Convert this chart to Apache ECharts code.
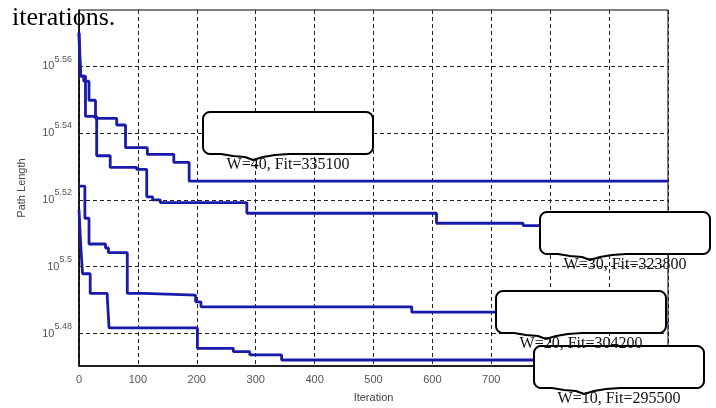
<!DOCTYPE html>
<html>
<head>
<meta charset="utf-8">
<script src="https://cdn.jsdelivr.net/npm/echarts@6/dist/echarts.min.js"></script>
<style>
  html, body { margin: 0; padding: 0; background: #fff; }
  #chart1 { width: 716px; height: 408px; }
</style>
</head>
<body>
<div id="chart1"></div>
<script>
// exponent of path length (axis is log10)
const iterW40 = [0, 2, 8, 17, 28, 64, 79, 116, 161, 187, 1000]
const pathW40 = [5.570, 5.557, 5.5555, 5.5498, 5.5444, 5.5424, 5.5356, 5.5336, 5.5312, 5.5256, 5.5256]

const iterW30 = [0, 3, 11, 30, 53, 98, 115, 125, 138, 285, 607, 754, 880, 1000]
const pathW30 = [5.570, 5.557, 5.545, 5.5332, 5.5297, 5.5291, 5.5209, 5.5200, 5.5192, 5.5160, 5.5130, 5.5123, 5.5103, 5.5103]

const iterW20 = [0, 10, 17, 45, 50, 82, 110, 198, 207, 565, 850, 1000]
const pathW20 = [5.5241, 5.5145, 5.5068, 5.5056, 5.5042, 5.4920, 5.4915, 5.4895, 5.4880, 5.4864, 5.4832, 5.4832]

const iterW10 = [0, 3, 6, 19, 48, 51, 201, 262, 290, 344, 900, 1000]
const pathW10 = [5.5171, 5.5062, 5.4979, 5.4920, 5.4910, 5.4817, 5.4756, 5.4746, 5.4736, 5.4721, 5.4709, 5.4709]

const yTicks = [5.48, 5.5, 5.52, 5.54, 5.56]
const calloutText = ["W=40, Fit=335100", "W=30, Fit=323800", "W=20, Fit=304200", "W=10, Fit=295500"]

const lineColor = "#1a1aaa"
const pairs = (xs, ys) => xs.map((x, i) => [x, ys[i]])

// rounded box outline with a small brace tip on the bottom edge
function calloutPoints(l, t, w, h, r) {
  const pts = []
  const b = t + h
  const tip = l + 50
  const arc = (cx, cy, a0, a1) => {
    for (let k = 0; k <= 6; k++) {
      const a = a0 + (a1 - a0) * k / 6
      pts.push([cx + r * Math.cos(a), cy + r * Math.sin(a)])
    }
  }
  arc(l + r, t + r, Math.PI, Math.PI * 1.5)
  arc(l + w - r, t + r, Math.PI * 1.5, Math.PI * 2)
  arc(l + w - r, b - r, 0, Math.PI * 0.5)
  pts.push([tip + 36, b], [tip + 22, b + 1], [tip + 10, b + 3], [tip, b + 6],
    [tip - 8, b + 3], [tip - 20, b + 2], [tip - 32, b])
  arc(l + r, b - r, Math.PI * 0.5, Math.PI)
  return pts
}

const boxes = [
  { l: 203, t: 112 },
  { l: 540, t: 212 },
  { l: 496, t: 291 },
  { l: 534, t: 346 },
]
const boxW = 170
const boxH = 42

const graphics = []
boxes.forEach((b) => {
  graphics.push({
    type: "polygon",
    z: 100,
    shape: { points: calloutPoints(b.l, b.t, boxW, boxH, 7) },
    style: { fill: "#fff", stroke: "#000", lineWidth: 2, lineJoin: "round" },
  })
})
boxes.forEach((b, i) => {
  graphics.push({
    type: "text",
    z: 110,
    x: b.l + boxW / 2,
    y: b.t + boxH + 11,
    style: {
      text: calloutText[i],
      font: "16px 'Liberation Serif'",
      fill: "#111",
      align: "center",
      verticalAlign: "middle",
    },
  })
})
graphics.push({
  type: "text",
  z: 110,
  x: 12,
  y: 18,
  style: {
    text: "iterations.",
    font: "26px 'Liberation Serif'",
    fill: "#000",
    align: "left",
    verticalAlign: "middle",
  },
})

const dash = { color: "#222", width: 1, type: [4, 3] }

const chart = echarts.init(document.getElementById("chart1"))
chart.setOption({
  animation: false,
  backgroundColor: "#fff",
  grid: {
    left: 79,
    right: 48,
    top: 10,
    bottom: 36,
    containLabel: false,
    show: true,
    borderColor: "#000",
    borderWidth: 1,
  },
  xAxis: {
    type: "value",
    min: 0,
    max: 1000,
    interval: 100,
    name: "Iteration",
    nameLocation: "middle",
    nameGap: 26,
    nameTextStyle: { fontFamily: "Liberation Sans", fontSize: 11, color: "#444" },
    axisLine: { lineStyle: { color: "#000", width: 1.5 } },
    axisTick: { show: false },
    axisLabel: { fontFamily: "Liberation Sans", fontSize: 11, color: "#555", margin: 8 },
    splitLine: { show: true, lineStyle: dash },
  },
  yAxis: {
    type: "value",
    min: 5.4703,
    max: 5.5768,
    name: "Path Length",
    nameLocation: "middle",
    nameGap: 52,
    nameTextStyle: { fontFamily: "Liberation Sans", fontSize: 11, color: "#444" },
    axisLine: { show: true, lineStyle: { color: "#000", width: 1.5 } },
    axisTick: { show: false },
    splitLine: { show: false },
    axisLabel: {
      customValues: yTicks,
      margin: 7,
      formatter: (v) => "{b|10}{s|" + parseFloat(v.toFixed(2)) + "}",
      rich: {
        b: { fontFamily: "Liberation Sans", fontSize: 11, color: "#555" },
        s: { fontFamily: "Liberation Sans", fontSize: 9, color: "#555", padding: [0, 0, 14, 0] },
      },
    },
  },
  series: [
    {
      name: "W=40",
      type: "line",
      step: "end",
      showSymbol: false,
      data: pairs(iterW40, pathW40),
      lineStyle: { color: lineColor, width: 2.8 },
      markLine: {
        silent: true,
        symbol: "none",
        label: { show: false },
        lineStyle: dash,
        data: yTicks.map((v) => ({ yAxis: v })),
      },
      z: 3,
    },
    { name: "W=30", type: "line", step: "end", showSymbol: false, data: pairs(iterW30, pathW30), lineStyle: { color: lineColor, width: 2.8 }, z: 3 },
    { name: "W=20", type: "line", step: "end", showSymbol: false, data: pairs(iterW20, pathW20), lineStyle: { color: lineColor, width: 2.8 }, z: 3 },
    { name: "W=10", type: "line", step: "end", showSymbol: false, data: pairs(iterW10, pathW10), lineStyle: { color: lineColor, width: 2.8 }, z: 3 },
  ],
  graphic: graphics,
})
</script>
</body>
</html>
